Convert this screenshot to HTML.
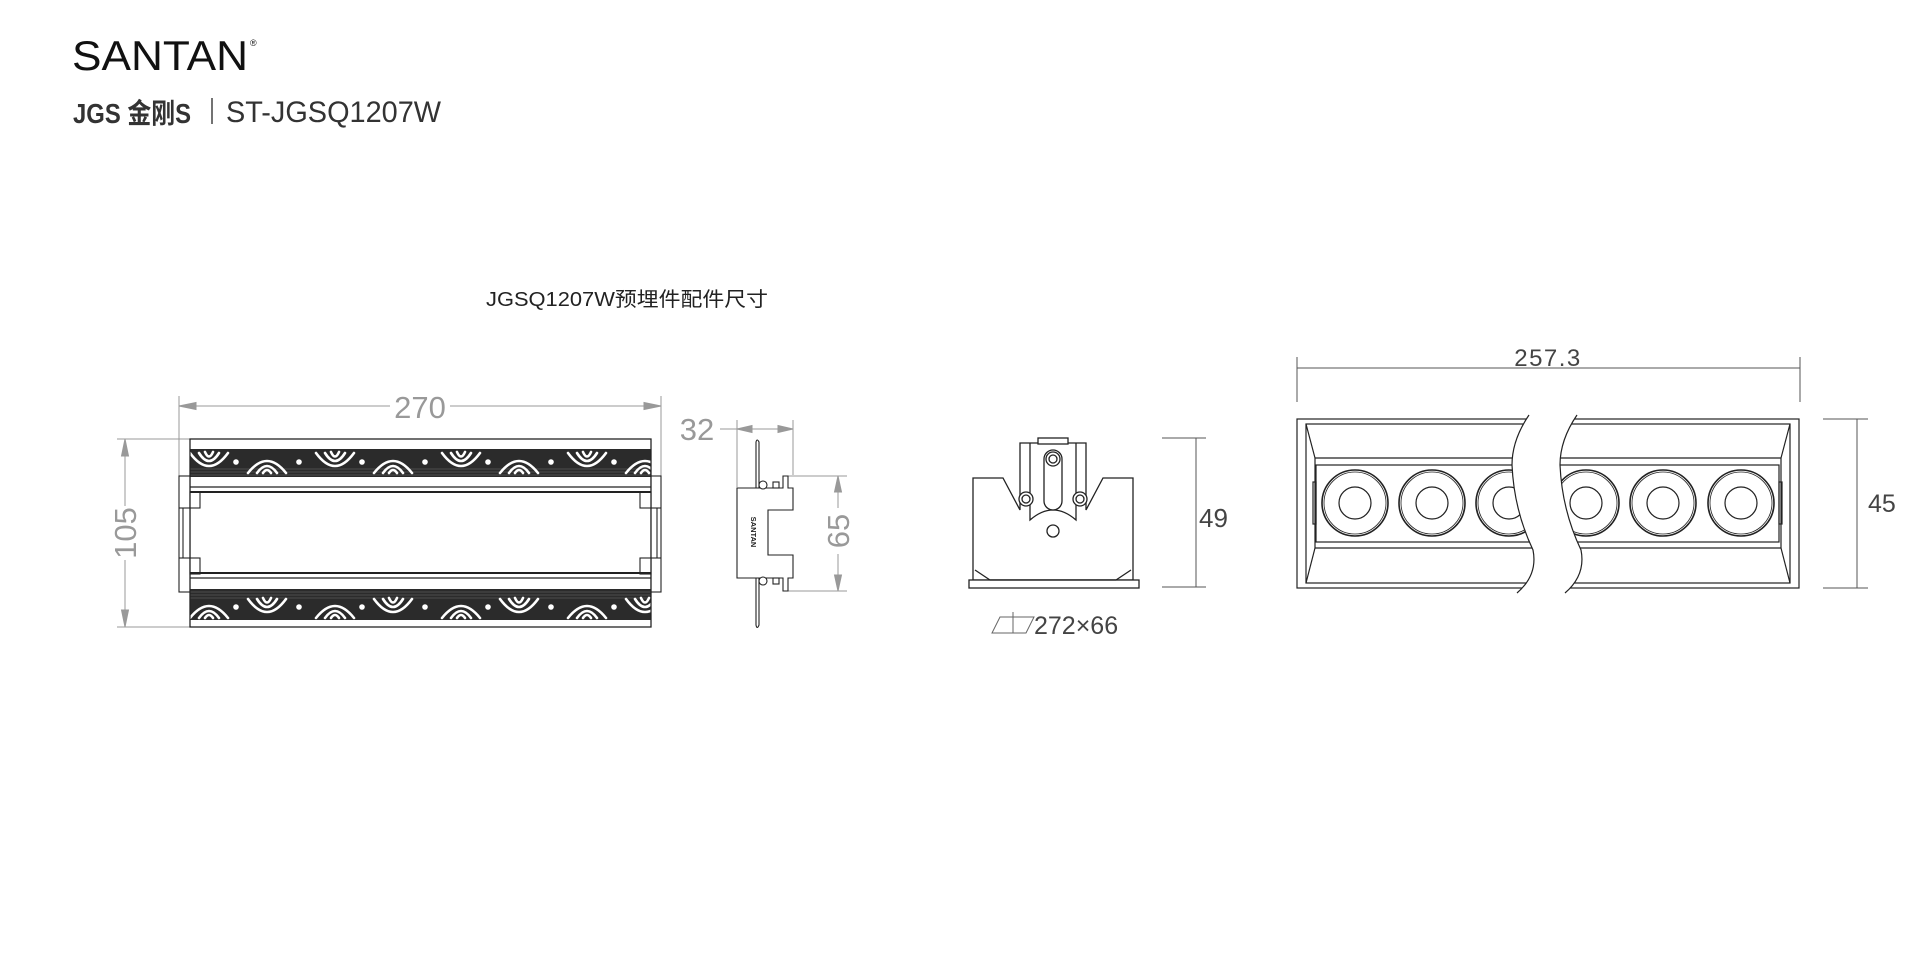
<!DOCTYPE html>
<html><head><meta charset="utf-8"><style>
html,body{margin:0;padding:0;background:#fff;}
svg{display:block}
text{font-family:"Liberation Sans","Noto Sans CJK SC",sans-serif;}
</style></head><body>
<svg width="1920" height="960" viewBox="0 0 1920 960" xmlns="http://www.w3.org/2000/svg">
<defs>
<pattern id="pt" x="236" y="449" width="126" height="28" patternUnits="userSpaceOnUse">
<rect width="126" height="28" fill="#2b2b2b"/>
<g stroke="#5a5a5a" stroke-width="0.8"><line x1="0" y1="20" x2="126" y2="20"/><line x1="0" y1="23" x2="126" y2="23"/><line x1="0" y1="26" x2="126" y2="26"/></g>
<g fill="none" stroke="#fff" stroke-width="2.6" stroke-linecap="round">
<path d="M12 24 Q31 0 50 24"/><path d="M21 24 Q31 10 41 24"/><path d="M27 24 Q31 18 35 24"/>
<path d="M80 4 Q99 30 118 4"/><path d="M89 4 Q99 20 109 4"/><path d="M95 3 Q99 12 103 3"/>
</g>
<circle cx="0" cy="13" r="2.8" fill="#fff"/><circle cx="126" cy="13" r="2.8" fill="#fff"/><circle cx="63" cy="13" r="2.8" fill="#fff"/>
</pattern>
<pattern id="pb" x="236" y="589" width="126" height="31" patternUnits="userSpaceOnUse">
<rect width="126" height="31" fill="#2b2b2b"/>
<g stroke="#5a5a5a" stroke-width="0.8"><line x1="0" y1="3" x2="126" y2="3"/><line x1="0" y1="6" x2="126" y2="6"/><line x1="0" y1="9" x2="126" y2="9"/></g>
<g fill="none" stroke="#fff" stroke-width="2.6" stroke-linecap="round">
<path d="M12 10 Q31 36 50 10"/><path d="M21 10 Q31 26 41 10"/><path d="M27 9 Q31 18 35 9"/>
<path d="M80 29 Q99 5 118 29"/><path d="M89 29 Q99 15 109 29"/><path d="M95 29 Q99 23 103 29"/>
</g>
<circle cx="0" cy="18" r="2.8" fill="#fff"/><circle cx="126" cy="18" r="2.8" fill="#fff"/><circle cx="63" cy="18" r="2.8" fill="#fff"/>
</pattern>
</defs>

<!-- header -->
<text x="72" y="70" font-size="42" fill="#111" textLength="176" lengthAdjust="spacingAndGlyphs" style="font-weight:300">SANTAN</text>
<text x="250" y="46" font-size="9" fill="#111">®</text>
<text x="73" y="123" font-size="28" fill="#333" font-weight="bold" textLength="118" lengthAdjust="spacingAndGlyphs">JGS 金刚S</text>
<line x1="212" y1="98" x2="212" y2="124" stroke="#444" stroke-width="1.5"/>
<text x="226" y="122" font-size="30" fill="#333" textLength="215" lengthAdjust="spacingAndGlyphs">ST-JGSQ1207W</text>

<text x="486" y="306" font-size="20" fill="#222" textLength="282" lengthAdjust="spacingAndGlyphs">JGSQ1207W预埋件配件尺寸</text>

<!-- front view -->
<g stroke="#999" stroke-width="1" fill="#999">
<line x1="179" y1="396" x2="179" y2="476"/><line x1="661" y1="396" x2="661" y2="476"/>
<line x1="179" y1="406" x2="390" y2="406"/><line x1="450" y1="406" x2="661" y2="406"/>
<path d="M179 406 l17 -3.5 v7z"/><path d="M661 406 l-17 -3.5 v7z"/>
<line x1="117" y1="439" x2="190" y2="439"/><line x1="117" y1="627" x2="190" y2="627"/>
<line x1="125" y1="439" x2="125" y2="506"/><line x1="125" y1="560" x2="125" y2="627"/>
<path d="M125 439 l-3.5 17 h7z"/><path d="M125 627 l-3.5 -17 h7z"/>
</g>
<text x="420" y="418" font-size="31" fill="#999" text-anchor="middle" style="font-weight:300">270</text>
<text transform="translate(136 533) rotate(-90)" font-size="31" fill="#999" text-anchor="middle" style="font-weight:300">105</text>

<g stroke="#222" stroke-width="1.1" fill="#fff">
<rect x="190" y="439" width="461" height="188"/>
<rect x="179" y="476" width="11" height="116"/><rect x="651" y="476" width="10" height="116"/>
<rect x="190" y="492" width="10" height="16"/><rect x="640" y="492" width="11" height="16"/>
<rect x="190" y="558" width="10" height="16"/><rect x="640" y="558" width="11" height="16"/>
<line x1="183" y1="508" x2="183" y2="558"/><line x1="657" y1="508" x2="657" y2="558"/>
<line x1="179" y1="508" x2="190" y2="508"/><line x1="179" y1="558" x2="190" y2="558"/>
<line x1="651" y1="508" x2="661" y2="508"/><line x1="651" y1="558" x2="661" y2="558"/>
</g>
<g stroke="#222" fill="none">
<line x1="190" y1="487" x2="651" y2="487" stroke-width="1.2"/><line x1="190" y1="492" x2="651" y2="492" stroke-width="2"/>
<line x1="190" y1="573" x2="651" y2="573" stroke-width="2"/><line x1="190" y1="578" x2="651" y2="578" stroke-width="1.2"/>
</g>
<rect x="190" y="449" width="461" height="28" fill="url(#pt)"/>
<rect x="190" y="589" width="461" height="31" fill="url(#pb)"/>
<rect x="190" y="439" width="461" height="188" fill="none" stroke="#222" stroke-width="1.2"/>

<!-- side view -->
<g stroke="#999" stroke-width="1" fill="#999">
<line x1="737" y1="420" x2="737" y2="487"/><line x1="793" y1="420" x2="793" y2="475"/>
<line x1="720" y1="429" x2="793" y2="429"/>
<path d="M737 429 l15 -3.5 v7z"/><path d="M793 429 l-15 -3.5 v7z"/>
<line x1="787" y1="476" x2="847" y2="476"/><line x1="787" y1="591" x2="847" y2="591"/>
<line x1="838" y1="476" x2="838" y2="508"/><line x1="838" y1="554" x2="838" y2="591"/>
<path d="M838 476 l-3.5 16 h7z"/><path d="M838 591 l-3.5 -16 h7z"/>
</g>
<text x="697" y="440" font-size="31" fill="#999" text-anchor="middle" style="font-weight:300">32</text>
<text transform="translate(849 531) rotate(-90)" font-size="31" fill="#999" text-anchor="middle" style="font-weight:300">65</text>
<g stroke="#222" stroke-width="1.1" fill="#fff">
<path d="M756 442 Q757 438 759 442 L759 625 Q757 630 756 625Z"/>
<path d="M737 488 L783 488 L783 476 L788 476 L788 488 L793 488 L793 510 L768 510 L768 555 L793 555 L793 578 L788 578 L788 591 L783 591 L783 578 L737 578Z"/>
<circle cx="763" cy="485" r="4"/><circle cx="763" cy="581" r="4"/>
<rect x="773" y="482" width="6" height="6"/><rect x="773" y="578" width="6" height="6"/>
</g>
<text transform="translate(751 532) rotate(90)" font-size="7.5" fill="#222" text-anchor="middle" font-weight="bold">SANTAN</text>

<!-- end view -->
<g stroke="#222" stroke-width="1.3" fill="#fff">
<path d="M973 478 L1003 478 L1020 510 L1020 443 L1086 443 L1086 510 L1103 478 L1133 478 L1133 580 L973 580Z"/>
<rect x="969" y="580" width="170" height="8"/>
<path d="M975 570 L990 580 L1116 580 L1131 570" fill="none"/>
<rect x="1038" y="438" width="30" height="6"/>
<path d="M1030 443 L1030 520 Q1053 500 1076 520 L1076 443" fill="none"/>
<rect x="1044" y="450" width="18" height="60" rx="9"/>
<circle cx="1053" cy="459" r="7"/><circle cx="1053" cy="459" r="4"/>
<circle cx="1026" cy="499" r="7"/><circle cx="1026" cy="499" r="4"/>
<circle cx="1080" cy="499" r="7"/><circle cx="1080" cy="499" r="4"/>
<circle cx="1053" cy="531" r="6"/>
</g>
<g stroke="#555" stroke-width="1"><line x1="1162" y1="438" x2="1206" y2="438"/><line x1="1162" y1="587" x2="1206" y2="587"/><line x1="1196" y1="438" x2="1196" y2="587"/></g>
<text x="1199" y="527" font-size="26" fill="#444" style="font-weight:300">49</text>
<g stroke="#666" stroke-width="1" fill="none"><path d="M992 633 L1000 617 L1034 617 L1026 633Z"/><line x1="1013" y1="612" x2="1013" y2="633"/></g>
<text x="1034" y="634" font-size="25" fill="#444">272×66</text>

<!-- plan view -->
<g stroke="#555" stroke-width="1"><line x1="1297" y1="357" x2="1297" y2="402"/><line x1="1800" y1="357" x2="1800" y2="402"/><line x1="1297" y1="368" x2="1800" y2="368"/></g>
<text x="1548" y="366" font-size="24" fill="#444" text-anchor="middle" letter-spacing="1.5">257.3</text>
<g stroke="#222" stroke-width="1.2" fill="none">
<rect x="1297" y="419" width="502" height="169"/>
<rect x="1306" y="424" width="484" height="159"/>
<line x1="1315" y1="458" x2="1781" y2="458"/><line x1="1315" y1="548" x2="1781" y2="548"/>
<line x1="1306" y1="424" x2="1315" y2="458"/><line x1="1790" y1="424" x2="1781" y2="458"/>
<line x1="1306" y1="583" x2="1315" y2="548"/><line x1="1790" y1="583" x2="1781" y2="548"/>
<line x1="1315" y1="458" x2="1315" y2="548"/><line x1="1781" y1="458" x2="1781" y2="548"/>
<rect x="1316" y="465" width="463" height="77"/>
<rect x="1313" y="482" width="3" height="42"/><rect x="1779" y="482" width="3" height="42"/>
<g stroke-width="1.6">
<circle cx="1355" cy="503" r="33"/><circle cx="1432" cy="503" r="33"/><circle cx="1509" cy="503" r="33"/>
<circle cx="1586" cy="503" r="33"/><circle cx="1663" cy="503" r="33"/><circle cx="1741" cy="503" r="33"/>
</g>
<g stroke-width="0.8">
<circle cx="1355" cy="503" r="31"/><circle cx="1432" cy="503" r="31"/><circle cx="1509" cy="503" r="31"/>
<circle cx="1586" cy="503" r="31"/><circle cx="1663" cy="503" r="31"/><circle cx="1741" cy="503" r="31"/>
</g>
<circle cx="1355" cy="503" r="16"/><circle cx="1432" cy="503" r="16"/><circle cx="1509" cy="503" r="16"/>
<circle cx="1586" cy="503" r="16"/><circle cx="1663" cy="503" r="16"/><circle cx="1741" cy="503" r="16"/>
</g>
<path d="M1529 415 Q1512 440 1512 465 Q1514 510 1533 550 Q1538 575 1517 593 L1565 593 Q1586 575 1581 550 Q1562 510 1560 465 Q1560 440 1577 415Z" fill="#fff"/>
<g stroke="#222" stroke-width="1.2" fill="none">
<path d="M1529 415 Q1512 440 1512 465 Q1514 510 1533 550 Q1538 575 1517 593"/>
<path d="M1577 415 Q1560 440 1560 465 Q1562 510 1581 550 Q1586 575 1565 593"/>
</g>
<g stroke="#555" stroke-width="1"><line x1="1823" y1="419" x2="1868" y2="419"/><line x1="1823" y1="588" x2="1868" y2="588"/><line x1="1857" y1="419" x2="1857" y2="588"/></g>
<text x="1868" y="512" font-size="25" fill="#444">45</text>
</svg>
</body></html>
